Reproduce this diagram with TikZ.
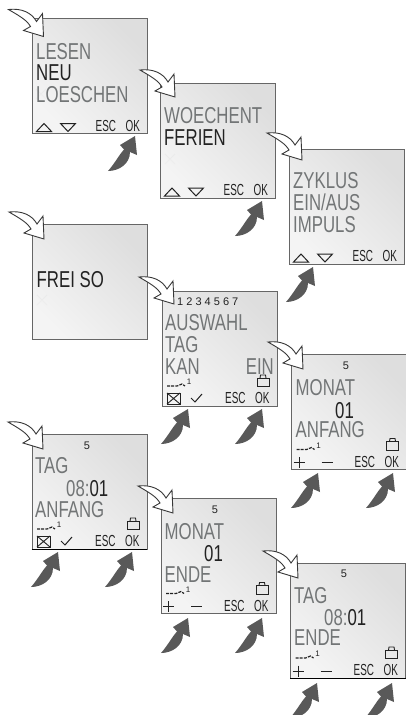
\documentclass[tikz,border=0pt]{standalone}
\usepackage{fontspec}
\usetikzlibrary{calc}
\setmainfont{Liberation Sans}
\newfontfamily\lcdfont{Liberation Sans}[FakeStretch=0.73]
\newfontfamily\keyfont{Liberation Sans}[FakeStretch=0.62]
\definecolor{lcdInk}{HTML}{727576}
\definecolor{lcdDark}{HTML}{222222}
\definecolor{lcdEdge}{HTML}{666666}
\definecolor{lcdLight}{HTML}{F4F4F4}
\definecolor{lcdShade}{HTML}{DEDEDE}
\definecolor{pushGray}{HTML}{595959}
\tikzset{
 lcd/.style={rectangle,draw=lcdEdge,line width=.7pt,inner sep=0pt,minimum width=115pt,minimum height=115pt,
   bottom color=lcdLight,top color=lcdShade,shading angle=-45},
 lcdtxt/.style={font=\lcdfont\fontsize{23}{23}\selectfont,text=lcdInk,anchor=base west,inner sep=0pt},
 lcdsel/.style={lcdtxt,text=lcdDark},
 softkey/.style={font=\keyfont\fontsize{16}{16}\selectfont,text=lcdDark,anchor=base west,inner sep=0pt},
 smallnum/.style={font=\fontsize{11}{11}\selectfont,text=lcdDark,anchor=base,inner sep=0pt},
 tinynum/.style={font=\fontsize{8}{8}\selectfont,text=lcdDark,inner sep=0pt},
 icon/.style={draw=lcdDark,line width=1pt},
 thinicon/.style={draw=lcdDark,line width=.9pt},
 smudge/.style={draw=lcdInk!35,line width=.4pt,densely dotted},
 whitearrow/.pic={\draw[draw=lcdDark!90,fill=white,line width=.9pt,line join=miter]
   (-35,-27) .. controls (-22,-28.5) and (-12,-24) .. (-7,-15) -- (-1,-23) -- (0,0) -- (-20,-6) -- (-13,-10)
   .. controls (-17,-17) and (-25,-21) .. (-35,-27) -- cycle;},
 pusharrow/.pic={\fill[pushGray]
   (-27,35) .. controls (-20,27) and (-16,19) .. (-11,13.5) -- (-15,9) -- (0,0) -- (2,19) -- (-5,16)
   .. controls (-5,28) and (-16,35) .. (-27,35) -- cycle;}
}
\begin{document}
\begin{tikzpicture}[x=1pt,y=-1pt]
 \useasboundingbox (0,0) rectangle (406,715);
 % displays
 \foreach \nm/\x/\y in {p1/32.5/18.5,p2/160.5/83,p3/289.5/149,p4/32.5/224.5,p5/162/291,p6/291.5/354.5,p7/32/434,p8/161/498.5,p9/290.5/563}{
   \node[lcd] (\nm) at (\x+57.5,\y+57.5) {};
 }
 \draw[black,line width=.8pt] (p7.south west) -- (p7.south east);
 \draw[black,line width=.8pt] (p9.south west) -- (p9.south east);
 \foreach \x/\y in {36/89,165/154,37/295}{
   \draw[smudge] (\x,\y) -- (\x+10,\y+10) (\x+10,\y) -- (\x,\y+10);
 }
 % menu texts
 \node[lcdtxt] (p1a) at (36,59.5) {LESEN};
 \node[lcdsel] (p1b) at (36,80) {NEU};
 \node[lcdtxt] (p1c) at (36,102) {LOESCHEN};
 \node[lcdtxt] (p2a) at (164,123) {WOECHENT};
 \node[lcdsel] (p2b) at (164,145) {FERIEN};
 \node[lcdtxt] (p3a) at (293,188) {ZYKLUS};
 \node[lcdtxt] (p3b) at (293,210) {EIN/AUS};
 \node[lcdtxt] (p3c) at (293,232) {IMPULS};
 \node[lcdsel] (p4a) at (36.5,287) {FREI SO};
 \node[lcdtxt] (p5a) at (165,330) {AUSWAHL};
 \node[lcdtxt] (p5b) at (165,352) {TAG};
 \node[lcdtxt] (p5c) at (165,374) {KAN};
 \node[lcdtxt,anchor=base east] (p5d) at (274,374) {EIN};
 \node[lcdtxt] (p6a) at (295.5,395) {MONAT};
 \node[lcdsel] (p6b) at (335,418) {01};
 \node[lcdtxt] (p6c) at (295.5,437) {ANFANG};
 \node[lcdtxt] (p7a) at (35,473) {TAG};
 \node[lcdtxt] (p7b) at (66,496) {08:\textcolor{lcdDark}{01}};
 \node[lcdtxt] (p7c) at (35,517) {ANFANG};
 \node[lcdtxt] (p8a) at (164.5,539) {MONAT};
 \node[lcdsel] (p8b) at (204,561) {01};
 \node[lcdtxt] (p8c) at (164.5,582) {ENDE};
 \node[lcdtxt] (p9a) at (294,603) {TAG};
 \node[lcdtxt] (p9b) at (324,625) {08:\textcolor{lcdDark}{01}};
 \node[lcdtxt] (p9c) at (294,645) {ENDE};
 % day numbers
 \node[smallnum,anchor=base west] (p5n) at (177,305) {1 2 3 4 5 6 7};
 \node[smallnum] (p6n) at (346,369) {5};
 \node[smallnum] (p7n) at (87,449) {5};
 \node[smallnum] (p8n) at (215,513) {5};
 \node[smallnum] (p9n) at (344,577) {5};
 % soft keys
 \foreach \nm/\x/\y in {p1/32.5/18.5,p2/160.5/83,p3/289.5/149,p5/162/291,p6/291.5/354.5,p7/32/434,p8/161/498.5,p9/290.5/563}{
   \node[softkey] (\nm esc) at (\x+63,\y+112.5) {ESC};
   \node[softkey] (\nm ok) at (\x+93,\y+112.5) {OK};
 }
 \foreach \x/\y in {32.5/18.5,160.5/83,289.5/149}{
   \draw[icon] (\x+4,\y+113) -- (\x+19,\y+113) -- (\x+11.5,\y+105) -- cycle;
   \draw[icon] (\x+28,\y+105) -- (\x+43,\y+105) -- (\x+35.5,\y+113) -- cycle;
 }
 % time switch marks
 \foreach \nm/\x/\y in {p5/162/291,p6/291.5/354.5,p7/32/434,p8/161/498.5,p9/290.5/563}{
   \draw[draw=lcdDark,line width=1.2pt,dash pattern=on 3pt off 1.2pt] (\x+5,\y+95) -- (\x+15,\y+95) -- (\x+20,\y+93) -- (\x+23,\y+95);
   \node[tinynum] (\nm one) at (\x+27,\y+91) {1};
   \draw[thinicon] (\x+95,\y+87) rectangle (\x+107,\y+95.5);
   \draw[thinicon] (\x+98,\y+87) -- (\x+98.5,\y+84) -- (\x+103.5,\y+84) -- (\x+104,\y+87);
 }
 \foreach \x/\y in {162/291,32/434}{
   \draw[icon] (\x+5,\y+102) rectangle (\x+18,\y+113);
   \draw[thinicon] (\x+5,\y+102) -- (\x+18,\y+113) (\x+18,\y+102) -- (\x+5,\y+113);
   \draw[icon] (\x+29,\y+107) -- (\x+33,\y+111) -- (\x+40,\y+103);
 }
 \foreach \x/\y in {291.5/354.5,161/498.5,290.5/563}{
   \draw[icon] (\x+2,\y+108) -- (\x+13,\y+108) (\x+7.5,\y+102.5) -- (\x+7.5,\y+113.5);
   \draw[icon] (\x+30,\y+108) -- (\x+41,\y+108);
 }
 % arrows
 \foreach \x/\y in {43.5/36.5,175/97,302/160,44/239,174/304,303/369,43/449,173/513,298/578}{
   \pic at (\x,\y) {whitearrow};
 }
 \foreach \x/\y in {135/136,262/201,313/267,188/409,262/409,318/473,393/473,58/552,132/552,188/618,262/618,317/683,392/683}{
   \pic at (\x,\y) {pusharrow};
 }
\end{tikzpicture}
\end{document}
